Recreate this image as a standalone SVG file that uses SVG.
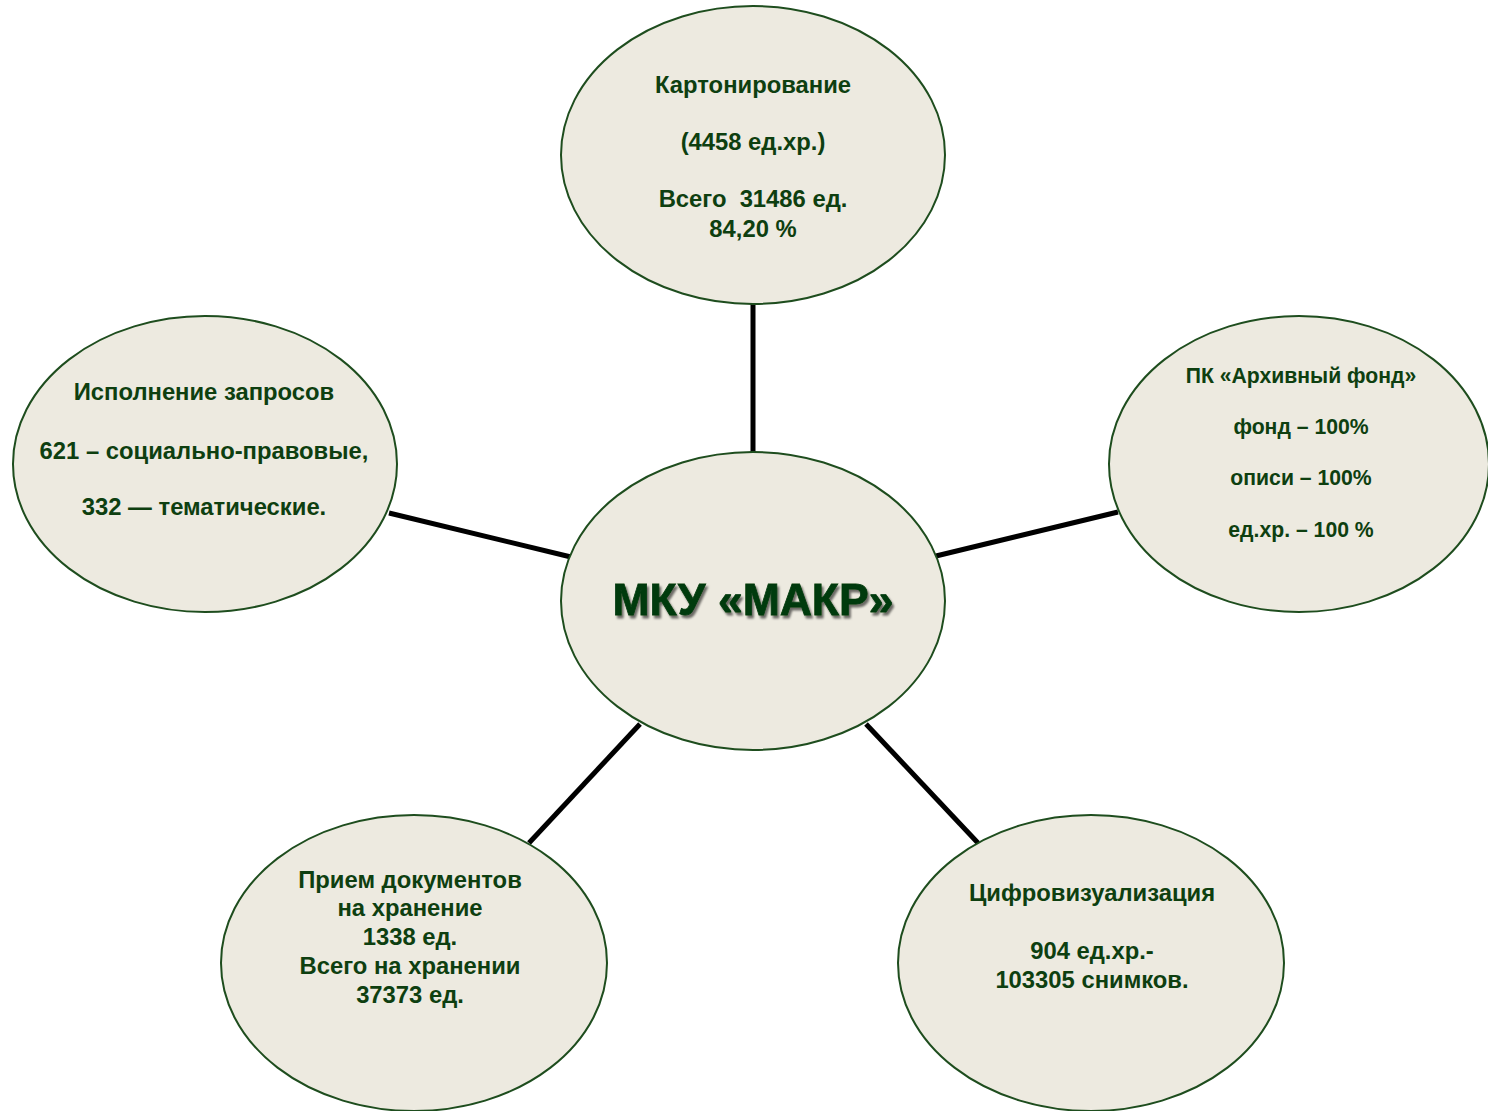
<svg xmlns="http://www.w3.org/2000/svg" width="1488" height="1111" viewBox="0 0 1488 1111">
<defs>
<style>
.node ellipse{fill:#edeae0;stroke:#1e4d1e;stroke-width:2}
.t{font-family:"Liberation Sans",Arial,sans-serif;font-weight:bold;font-size:23.8px;fill:#0e3f10;text-anchor:middle}
.r{font-size:21.2px}
.conn line{stroke:#000;stroke-width:5}
.title{font-family:"Liberation Sans",Arial,sans-serif;font-weight:bold;font-size:44.5px;fill:#063a0a;text-anchor:middle;stroke:#063a0a;stroke-width:0.8}
</style>
<filter id="sh" x="-10%" y="-30%" width="120%" height="160%">
<feGaussianBlur in="SourceAlpha" stdDeviation="1.2"/>
<feOffset dx="2" dy="3" result="b"/>
<feFlood flood-color="#000" flood-opacity="0.55"/>
<feComposite in2="b" operator="in"/>
<feMerge><feMergeNode/><feMergeNode in="SourceGraphic"/></feMerge>
</filter>
</defs>
<rect width="1488" height="1111" fill="#fff"/>
<g id="connectors" class="conn">
<line x1="753" y1="304" x2="753" y2="453"/>
<line x1="389" y1="513" x2="571" y2="557"/>
<line x1="936" y1="556" x2="1118" y2="512"/>
<line x1="529" y1="843" x2="640" y2="724"/>
<line x1="866" y1="724" x2="978" y2="843"/>
</g>
<g id="node-top" class="node">
<ellipse cx="753" cy="155" rx="192" ry="149"/>
<text class="t" x="753" y="93">Картонирование</text>
<text class="t" x="753" y="150">(4458 ед.хр.)</text>
<text class="t" x="753" y="207" xml:space="preserve">Всего  31486 ед.</text>
<text class="t" x="753" y="237">84,20 %</text>
</g>
<g id="node-left" class="node">
<ellipse cx="205" cy="464" rx="192" ry="148"/>
<text class="t" x="204" y="400">Исполнение запросов</text>
<text class="t" x="204" y="459">621 – социально-правовые,</text>
<text class="t" x="204" y="515">332 — тематические.</text>
</g>
<g id="node-right" class="node">
<ellipse cx="1299" cy="464" rx="190" ry="148"/>
<text class="t r" x="1301" y="383">ПК «Архивный фонд»</text>
<text class="t r" x="1301" y="434">фонд – 100%</text>
<text class="t r" x="1301" y="485">описи – 100%</text>
<text class="t r" x="1301" y="537">ед.хр. – 100 %</text>
</g>
<g id="node-center" class="node">
<ellipse cx="753" cy="601" rx="192" ry="149"/>
<text class="title" x="753" y="615" filter="url(#sh)">МКУ «МАКР»</text>
</g>
<g id="node-bottom-left" class="node">
<ellipse cx="414" cy="963" rx="193" ry="148"/>
<text class="t" x="410" y="888">Прием документов</text>
<text class="t" x="410" y="916">на хранение</text>
<text class="t" x="410" y="945">1338 ед.</text>
<text class="t" x="410" y="974">Всего на хранении</text>
<text class="t" x="410" y="1003">37373 ед.</text>
</g>
<g id="node-bottom-right" class="node">
<ellipse cx="1091" cy="963" rx="193" ry="148"/>
<text class="t" x="1092" y="901">Цифровизуализация</text>
<text class="t" x="1092" y="959">904 ед.хр.-</text>
<text class="t" x="1092" y="988">103305 снимков.</text>
</g>
</svg>
